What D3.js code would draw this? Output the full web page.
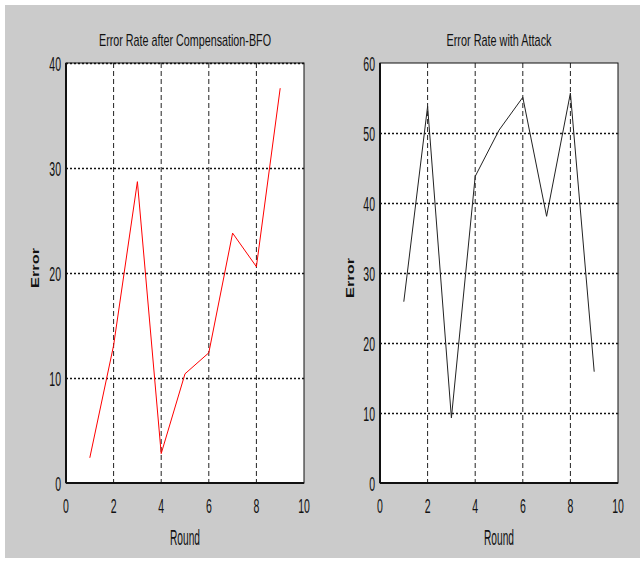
<!DOCTYPE html>
<html>
<head>
<meta charset="utf-8">
<script src="https://cdn.jsdelivr.net/npm/d3@7"></script>
<style>
    body { margin: 0; background: #fff; }
    svg { display: block; }
    text { font-family: "Liberation Sans", Arial, sans-serif; fill: #111; }
</style>
</head>
<body>
<div id="chart"></div>
<script>
// values
const rounds = [1, 2, 3, 4, 5, 6, 7, 8, 9];
const errorAfterBFO = [2.4, 13.1, 28.7, 2.8, 10.4, 12.4, 23.8, 20.6, 37.6];
const errorWithAttack = [25.9, 53.8, 9.3, 43.8, 50.4, 55.1, 38.1, 55.7, 15.9];
const xTicks = [0, 2, 4, 6, 8, 10];
const xGridTicks = [2, 4, 6, 8];
const yTicksBFO = [0, 10, 20, 30, 40];
const yTicksAttack = [0, 10, 20, 30, 40, 50, 60];

class ErrorPanel {
    constructor(svg, config) {
        this.svg = svg;
        this.cfg = config;
        this.initVis();
    }

    initVis() {
        const vis = this;
        const c = vis.cfg;

        vis.width = c.right - c.left;
        vis.height = c.bottom - c.top;

        vis.g = vis.svg.append("g")
            .attr("transform", `translate(${c.left},${c.top})`);

        vis.x = d3.scaleLinear().domain([0, 10]).range([0, vis.width]);
        vis.y = d3.scaleLinear().domain(c.yDomain).range([vis.height, 0]);

        vis.g.append("rect")
            .attr("width", vis.width)
            .attr("height", vis.height)
            .attr("fill", "#fff");

        // dashed vertical grid
        vis.g.append("g").selectAll("line")
            .data(xGridTicks)
            .join("line")
            .attr("x1", d => vis.x(d)).attr("x2", d => vis.x(d))
            .attr("y1", 0).attr("y2", vis.height)
            .attr("stroke", "#222")
            .attr("stroke-width", 1)
            .attr("stroke-dasharray", "5,3");

        // dotted horizontal grid
        vis.g.append("g").selectAll("line")
            .data(c.yGrid)
            .join("line")
            .attr("x1", 0).attr("x2", vis.width)
            .attr("y1", d => Math.round(vis.y(d)) + 0.5).attr("y2", d => Math.round(vis.y(d)) + 0.5)
            .attr("stroke", "#111")
            .attr("stroke-width", 1.3)
            .attr("stroke-dasharray", "2,2");

        vis.line = d3.line()
            .x((d, i) => vis.x(rounds[i]))
            .y(d => vis.y(d));

        vis.g.append("path")
            .datum(c.values)
            .attr("fill", "none")
            .attr("stroke", c.color)
            .attr("stroke-width", 1)
            .attr("d", vis.line);

        // frame
        vis.g.append("rect")
            .attr("width", vis.width)
            .attr("height", vis.height)
            .attr("fill", "none")
            .attr("stroke", "#111")
            .attr("stroke-width", 1);
        vis.g.append("line")
            .attr("x1", 0).attr("x2", vis.width)
            .attr("y1", vis.height).attr("y2", vis.height)
            .attr("stroke", "#111").attr("stroke-width", 2);
        vis.g.append("line")
            .attr("x1", 0).attr("x2", 0)
            .attr("y1", 0).attr("y2", vis.height)
            .attr("stroke", "#111").attr("stroke-width", 2);

        // tick labels, condensed like the reference
        vis.g.append("g").selectAll("text")
            .data(xTicks)
            .join("text")
            .attr("transform", d => `translate(${vis.x(d)},${vis.height + 30}) scale(0.5,1)`)
            .attr("text-anchor", "middle")
            .attr("font-size", 21)
            .text(d => d);

        vis.g.append("g").selectAll("text")
            .data(c.yTicks)
            .join("text")
            .attr("transform", d => `translate(-5,${vis.y(d) + 8}) scale(0.5,1)`)
            .attr("text-anchor", "end")
            .attr("font-size", 21)
            .text(d => d);

        vis.svg.append("text")
            .attr("x", (c.left + c.right) / 2)
            .attr("y", 46)
            .attr("text-anchor", "middle")
            .attr("font-size", 17)
            .attr("textLength", c.titleWidth)
            .attr("lengthAdjust", "spacingAndGlyphs")
            .text(c.title);

        vis.svg.append("text")
            .attr("x", (c.left + c.right) / 2)
            .attr("y", 545)
            .attr("text-anchor", "middle")
            .attr("font-size", 22)
            .attr("textLength", 30)
            .attr("lengthAdjust", "spacingAndGlyphs")
            .text("Round");

        vis.svg.append("text")
            .attr("transform", `translate(${c.labelX},${c.labelY}) rotate(-90)`)
            .attr("text-anchor", "middle")
            .attr("font-size", 10)
            .attr("font-weight", "bold")
            .attr("textLength", 40)
            .attr("lengthAdjust", "spacingAndGlyphs")
            .text("Error");
    }
}

const svg = d3.select("#chart").append("svg")
    .attr("width", 643)
    .attr("height", 562);

svg.append("rect")
    .attr("x", 5).attr("y", 5)
    .attr("width", 635).attr("height", 553)
    .attr("fill", "#cbcbcb");

new ErrorPanel(svg, {
    left: 66, right: 304, top: 63, bottom: 483,
    yDomain: [0, 40], yTicks: yTicksBFO, yGrid: [10, 20, 30, 40],
    values: errorAfterBFO, color: "#ff0000",
    title: "Error Rate after Compensation-BFO", titleWidth: 172,
    labelX: 39, labelY: 268
});

new ErrorPanel(svg, {
    left: 380, right: 618, top: 63, bottom: 483,
    yDomain: [0, 60], yTicks: yTicksAttack, yGrid: [10, 20, 30, 40, 50],
    values: errorWithAttack, color: "#222",
    title: "Error Rate with Attack", titleWidth: 105,
    labelX: 354, labelY: 278
});
</script>
</body>
</html>
